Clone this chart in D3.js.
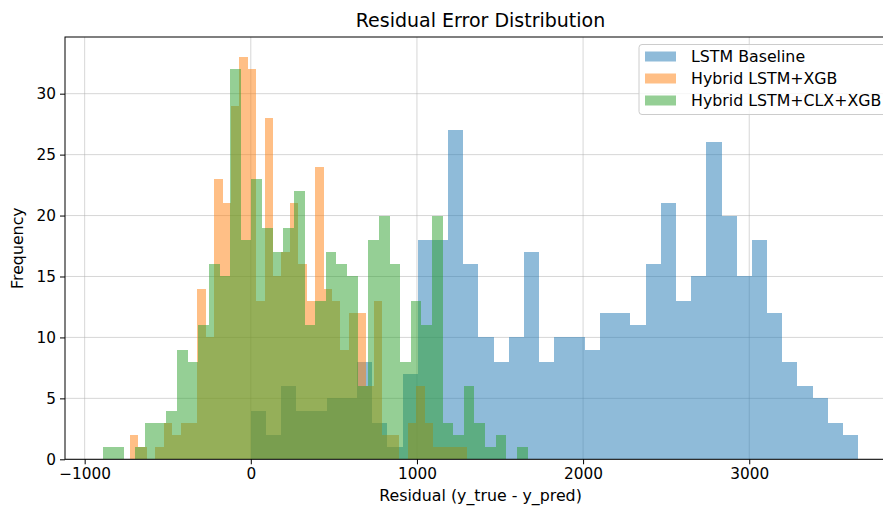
<!DOCTYPE html>
<html>
<head>
<meta charset="utf-8">
<script src="https://cdn.jsdelivr.net/npm/d3@7"></script>
<style>
  html, body { margin: 0; padding: 0; background: #fff; }
  svg { display: block; font-family: "DejaVu Sans", sans-serif; }
</style>
</head>
<body>
<svg id="chart" width="883" height="506"></svg>
<script>
// ---------- data ----------
const seriesNames = ["LSTM Baseline", "Hybrid LSTM+XGB", "Hybrid LSTM+CLX+XGB"];
const seriesColors = ["#1f77b4", "#ff7f0e", "#2ca02c"];

// histogram ranges (min, max residual) – 40 equal-width bins each
const lstmRange = [-1, 3656];
const xgbRange = [-727, 1299];
const clxRange = [-891, 1666];

const lstmCounts = [4, 2, 6, 4, 4, 5, 5, 8, 3, 1,
                    7, 18, 18, 27, 16, 10, 8, 10, 17, 8,
                    10, 10, 9, 12, 12, 11, 16, 21, 13, 15,
                    26, 20, 15, 18, 12, 8, 6, 5, 3, 2];
const xgbCounts = [2, 1, 0, 1, 3, 2, 3, 3, 14, 10,
                   23, 21, 29, 33, 32, 13, 28, 15, 17, 21,
                   16, 13, 24, 14, 13, 9, 12, 12, 6, 13,
                   2, 2, 0, 3, 6, 3, 1, 1, 1, 1];
const clxCounts = [1, 1, 0, 1, 3, 3, 4, 9, 8, 11,
                   16, 15, 32, 18, 23, 19, 17, 19, 22, 11,
                   13, 17, 16, 15, 6, 18, 20, 16, 8, 13,
                   11, 20, 3, 2, 6, 3, 1, 2, 0, 1];

const xTicks = [-1000, 0, 1000, 2000, 3000];
const yTicks = [0, 5, 10, 15, 20, 25, 30];

const titleText = "Residual Error Distribution";
const xLabel = "Residual (y_true - y_pred)";
const yLabel = "Frequency";

// ---------- layout ----------
const margin = { left: 65, top: 37, right: 896, bottom: 459.3 };

const series = [
  { name: seriesNames[0], color: seriesColors[0], range: lstmRange, counts: lstmCounts },
  { name: seriesNames[1], color: seriesColors[1], range: xgbRange, counts: xgbCounts },
  { name: seriesNames[2], color: seriesColors[2], range: clxRange, counts: clxCounts }
];
series.forEach(s => {
  const n = s.counts.length;
  const w = (s.range[1] - s.range[0]) / n;
  s.bins = s.counts.map((c, i) => ({ x0: s.range[0] + i * w, x1: s.range[0] + (i + 1) * w, count: c }));
});

const allMin = d3.min(series, s => s.range[0]);
const allMax = d3.max(series, s => s.range[1]);
const pad = (allMax - allMin) * 0.05;
const x = d3.scaleLinear().domain([allMin - pad, allMax + pad]).range([margin.left, margin.right]);
const yMax = d3.max(series, s => d3.max(s.counts)) * 1.05;
const y = d3.scaleLinear().domain([0, yMax]).range([margin.bottom, margin.top]);

const svg = d3.select("#chart");

svg.append("defs").append("clipPath").attr("id", "plotclip")
  .append("rect").attr("x", margin.left).attr("y", margin.top)
  .attr("width", margin.right - margin.left).attr("height", margin.bottom - margin.top);

// grid
const grid = svg.append("g").attr("class", "grid");
grid.selectAll("line.gx").data(xTicks).enter().append("line")
  .attr("x1", d => x(d)).attr("x2", d => x(d))
  .attr("y1", margin.top).attr("y2", margin.bottom)
  .attr("stroke", "#b0b0b0").attr("stroke-opacity", 0.5).attr("stroke-width", 1);
grid.selectAll("line.gy").data(yTicks).enter().append("line")
  .attr("x1", margin.left).attr("x2", margin.right)
  .attr("y1", d => y(d)).attr("y2", d => y(d))
  .attr("stroke", "#b0b0b0").attr("stroke-opacity", 0.5).attr("stroke-width", 1);

// bars
const barsG = svg.append("g").attr("clip-path", "url(#plotclip)");
series.forEach(s => {
  barsG.append("g").selectAll("rect").data(s.bins.filter(b => b.count > 0)).enter().append("rect")
    .attr("x", b => x(b.x0))
    .attr("width", b => x(b.x1) - x(b.x0))
    .attr("y", b => y(b.count))
    .attr("height", b => y(0) - y(b.count))
    .attr("fill", s.color)
    .attr("fill-opacity", 0.5)
    .attr("shape-rendering", "crispEdges");
});

// axes
const tickFont = 15.3;
const labelFont = 15.8;
const xAxis = d3.axisBottom(x).tickValues(xTicks).tickSizeOuter(0).tickSize(5).tickPadding(4)
  .tickFormat(d3.format(""));
const gx = svg.append("g").attr("transform", `translate(0,${margin.bottom})`).call(xAxis);
gx.select(".domain").remove();
gx.selectAll("text").attr("font-size", tickFont).attr("fill", "#000").attr("font-family", "DejaVu Sans");
gx.selectAll("line").attr("stroke", "#000").attr("stroke-width", 1);

const yAxis = d3.axisLeft(y).tickValues(yTicks).tickSizeOuter(0).tickSize(5).tickPadding(4);
const gy = svg.append("g").attr("transform", `translate(${margin.left},0)`).call(yAxis);
gy.select(".domain").remove();
gy.selectAll("text").attr("font-size", tickFont).attr("fill", "#000").attr("font-family", "DejaVu Sans");
gy.selectAll("line").attr("stroke", "#000").attr("stroke-width", 1);

// spines
svg.append("rect")
  .attr("x", margin.left).attr("y", margin.top)
  .attr("width", margin.right - margin.left).attr("height", margin.bottom - margin.top)
  .attr("fill", "none").attr("stroke", "#000").attr("stroke-width", 1);

// title & labels
svg.append("text").attr("x", (margin.left + margin.right) / 2).attr("y", 27)
  .attr("text-anchor", "middle").attr("font-size", 19).text(titleText);
svg.append("text").attr("x", (margin.left + margin.right) / 2).attr("y", 501)
  .attr("text-anchor", "middle").attr("font-size", labelFont).text(xLabel);
svg.append("text").attr("transform", `translate(23,${(margin.top + margin.bottom) / 2}) rotate(-90)`)
  .attr("text-anchor", "middle").attr("font-size", labelFont).text(yLabel);

// legend
const lg = svg.append("g");
lg.append("rect").attr("x", 639).attr("y", 44.5).attr("width", 270).attr("height", 70)
  .attr("rx", 3).attr("fill", "#fff").attr("fill-opacity", 0.8)
  .attr("stroke", "#cccccc").attr("stroke-width", 1);
series.forEach((s, i) => {
  const cy = 56.5 + i * 22;
  lg.append("rect").attr("x", 645).attr("y", cy - 5).attr("width", 31).attr("height", 10)
    .attr("fill", s.color).attr("fill-opacity", 0.5);
  lg.append("text").attr("x", 691).attr("y", cy + 5.5).attr("font-size", labelFont).text(s.name);
});
</script>
</body>
</html>
